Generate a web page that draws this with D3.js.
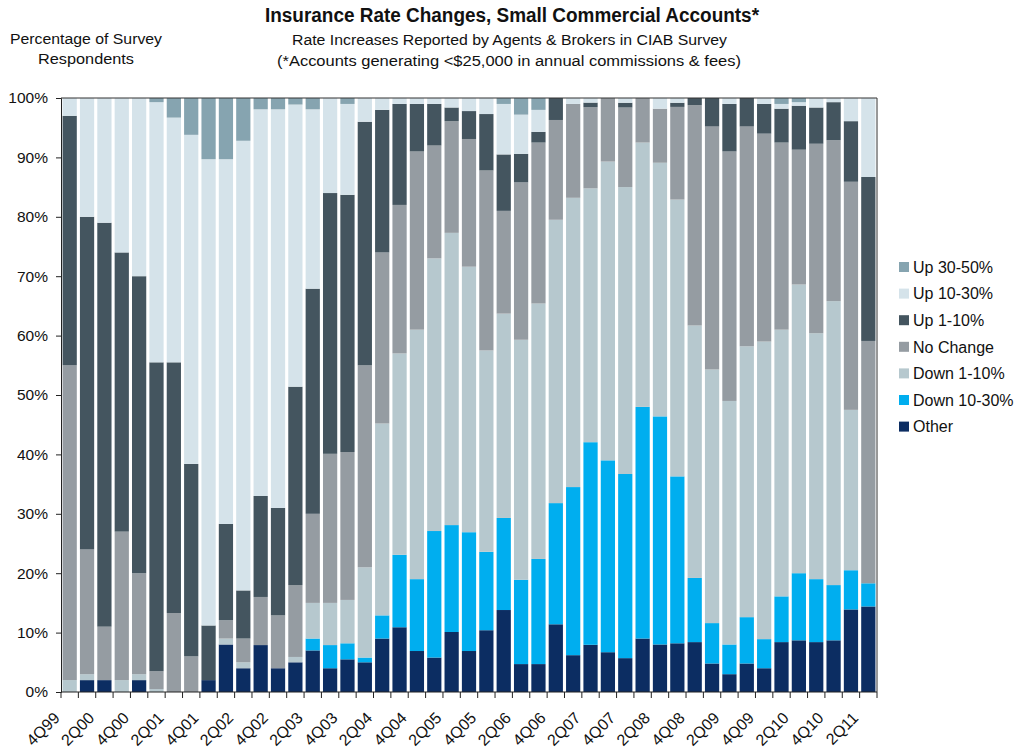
<!DOCTYPE html>
<html>
<head>
<meta charset="utf-8">
<script src="https://cdn.jsdelivr.net/npm/d3@7"></script>
<style>
  html, body { margin: 0; padding: 0; background: #fff; }
  svg { display: block; font-family: "Liberation Sans", Arial, sans-serif; }
</style>
</head>
<body>
<svg id="chart" width="1024" height="752"></svg>
<script>
// CIAB survey, small commercial accounts: share of respondents by rate change, per quarter
const quarters = [
  '4Q99','1Q00','2Q00','3Q00','4Q00','1Q01','2Q01','3Q01','4Q01','1Q02','2Q02','3Q02',
  '4Q02','1Q03','2Q03','3Q03','4Q03','1Q04','2Q04','3Q04','4Q04','1Q05','2Q05','3Q05',
  '4Q05','1Q06','2Q06','3Q06','4Q06','1Q07','2Q07','3Q07','4Q07','1Q08','2Q08','3Q08',
  '4Q08','1Q09','2Q09','3Q09','4Q09','1Q10','2Q10','3Q10','4Q10','1Q11','2Q11'
];
const other      = [0,2,2,0,2,0,0,0,2,8,4,7.9,4,5,7,4,5.5,5,9,10.9,6.9,5.8,10.1,6.9,10.4,13.8,4.7,4.7,11.4,6.2,8.2,6.7,5.7,9,8,8.2,8.4,4.8,3,4.8,4,8.4,8.7,8.4,8.7,13.9,14.4];
const down10to30 = [0,0,0,0,0,0,0,0,0,0,0,0,0,0,2,3.9,2.7,0.8,3.9,12.2,12.1,21.3,18,20,13.2,15.5,14.2,17.7,20.4,28.3,35.2,32.3,31,39,38.4,28.1,10.8,6.8,5,7.8,4.9,7.7,11.3,10.6,9.3,6.6,3.9];
const down1to10  = [2,1,0,2,1,0.5,0,0,0,1,1,0,0,0.9,6,7.1,7.3,15.2,32.3,33.9,42,45.9,49.2,44.7,33.9,34.4,40.4,43,47.7,48.7,44.1,50.3,48.3,44.5,42.7,46.6,42.5,42.7,41,45.6,50.1,44.9,48.6,41.4,47.8,27,0];
const noChange   = [53,21,9,25,17,3,13.3,6,0,3.1,4,8.1,8.9,12.1,15,25.1,24.9,34,28.8,25,30,19,18.8,21.5,30.3,17.3,26.5,27.1,16.8,15.8,14.1,10.7,13.4,7.5,9.1,15.6,37.1,40.9,42,37,35,31.5,22.7,31.9,27.1,38.4,40.8];
const up1to10    = [42,56,68,47,50,52,42.2,32.4,9.2,16.2,8.1,17,18.1,33.4,37.9,43.9,43.3,41,24,17,8,7,2.3,4.7,9.5,9.5,4.8,1.8,3.7,0,0.8,0,0.8,0,0,0.7,1.2,4.8,8,4.8,5,5.7,7.4,6.1,6.4,10.2,27.6];
const up10to30   = [3,20,21,26,30,43.8,41.2,55.4,78.5,61.4,75.7,65.1,67.1,47.5,30.2,16,15.3,4,2,1,1,1,1.6,2.2,2.7,8.5,6.6,3.7,0,1,0.8,0,0.8,0,1.8,0.8,0,0,1,0,1,0.8,0.6,1.6,0.7,3.9,13.3];
const up30to50   = [0,0,0,0,0,0.7,3.3,6.2,10.3,10.3,7.2,1.9,1.9,1.1,1.9,0,1,0,0,0,0,0,0,0,0,1,2.8,2,0,0,0,0,0,0,0,0,0,0,0,0,0,1,0.7,0,0,0,0];

// stacking order, bottom to top
const seriesNames  = ['Other','Down 10-30%','Down 1-10%','No Change','Up 1-10%','Up 10-30%','Up 30-50%'];
const seriesColors = ['#0c2d62','#00aeef','#b6c8ce','#959ca2','#44555f','#d5e3ea','#86a4b0'];
const yTicks = [0,0.1,0.2,0.3,0.4,0.5,0.6,0.7,0.8,0.9,1];

(function(){
  const svg = d3.select('#chart');
  const left = 61, right = 877, top = 98, bottom = 692;
  const cols = [other, down10to30, down1to10, noChange, up1to10, up10to30, up30to50];

  const rows = quarters.map((q, i) => {
    const r = { q };
    seriesNames.forEach((s, k) => { r[s] = cols[k][i]; });
    return r;
  });

  const x = d3.scaleBand().domain(quarters).range([left, right]).paddingInner(0.18).paddingOuter(0.09);
  const y = d3.scaleLinear().domain([0, 1]).range([bottom, top]);
  const color = d3.scaleOrdinal().domain(seriesNames).range(seriesColors);

  const stacked = d3.stack().keys(seriesNames).offset(d3.stackOffsetExpand)(rows);

  // bars
  svg.append('g').selectAll('g').data(stacked).join('g')
    .attr('fill', d => color(d.key))
    .selectAll('rect').data(d => d).join('rect')
      .attr('x', d => x(d.data.q))
      .attr('width', x.bandwidth())
      .attr('y', d => y(d[1]))
      .attr('height', d => Math.max(0, y(d[0]) - y(d[1])));

  // plot frame (top and right edges)
  svg.append('path')
    .attr('d', `M${left},${top}H${right}V${bottom}`)
    .attr('fill', 'none').attr('stroke', '#333').attr('stroke-width', 1);

  // y axis
  const yAxis = svg.append('g').attr('transform', `translate(${left},0)`)
    .call(d3.axisLeft(y).tickValues(yTicks).tickFormat(d3.format('.0%')).tickSize(5).tickPadding(8));
  yAxis.select('.domain').attr('stroke', '#222');
  yAxis.selectAll('.tick line').attr('stroke', '#222');
  yAxis.selectAll('text').attr('font-size', 15.5).attr('fill', '#111')
    .attr('font-family', '"Liberation Sans", Arial, sans-serif');

  // x axis: line, ticks between categories, every other label rotated
  const xg = svg.append('g');
  xg.append('line').attr('x1', left).attr('x2', right).attr('y1', bottom).attr('y2', bottom)
    .attr('stroke', '#222');
  const step = x.step();
  const bounds = d3.range(quarters.length + 1).map(i => i === quarters.length
    ? x(quarters[i - 1]) + x.bandwidth() + step * x.paddingInner() / 2
    : x(quarters[i]) - step * x.paddingInner() / 2);
  xg.selectAll('line.tk').data(bounds).join('line').attr('class', 'tk')
    .attr('x1', d => d).attr('x2', d => d).attr('y1', bottom).attr('y2', bottom + 6)
    .attr('stroke', '#222');
  xg.selectAll('text').data(quarters.filter((q, i) => i % 2 === 0)).join('text')
    .attr('transform', d => `translate(${x(d) + x.bandwidth() / 2 - 9},${bottom + 27}) rotate(-45)`)
    .attr('text-anchor', 'end')
    .attr('font-size', 16).attr('fill', '#111')
    .text(d => d);

  // titles
  const hdr = svg.append('g').attr('fill', '#111').attr('text-anchor', 'middle');
  hdr.append('text').attr('x', 512).attr('y', 22).attr('font-size', 19.5).attr('font-weight', 'bold')
    .attr('textLength', 494).attr('lengthAdjust', 'spacingAndGlyphs')
    .text('Insurance Rate Changes, Small Commercial Accounts*');
  hdr.append('text').attr('x', 509.5).attr('y', 45).attr('font-size', 15.5)
    .attr('textLength', 435).attr('lengthAdjust', 'spacingAndGlyphs')
    .text('Rate Increases Reported by Agents & Brokers in CIAB Survey');
  hdr.append('text').attr('x', 509).attr('y', 66).attr('font-size', 15.5)
    .attr('textLength', 464).attr('lengthAdjust', 'spacingAndGlyphs')
    .text('(*Accounts generating <$25,000 in annual commissions & fees)');
  hdr.append('text').attr('x', 86).attr('y', 44).attr('font-size', 15.5)
    .attr('textLength', 152).attr('lengthAdjust', 'spacingAndGlyphs')
    .text('Percentage of Survey');
  hdr.append('text').attr('x', 86).attr('y', 64).attr('font-size', 15.5)
    .attr('textLength', 96).attr('lengthAdjust', 'spacingAndGlyphs')
    .text('Respondents');

  // legend, top of stack first
  const legendItems = seriesNames.slice().reverse();
  const lg = svg.append('g').attr('transform', 'translate(899,267)');
  const item = lg.selectAll('g').data(legendItems).join('g')
    .attr('transform', (d, i) => `translate(0,${i * 26.6})`);
  item.append('rect').attr('x', 0).attr('y', -5).attr('width', 10).attr('height', 10)
    .attr('fill', d => color(d));
  item.append('text').attr('x', 14).attr('y', 0).attr('dy', '0.36em')
    .attr('font-size', 16).attr('fill', '#111').text(d => d);
})();
</script>
</body>
</html>
